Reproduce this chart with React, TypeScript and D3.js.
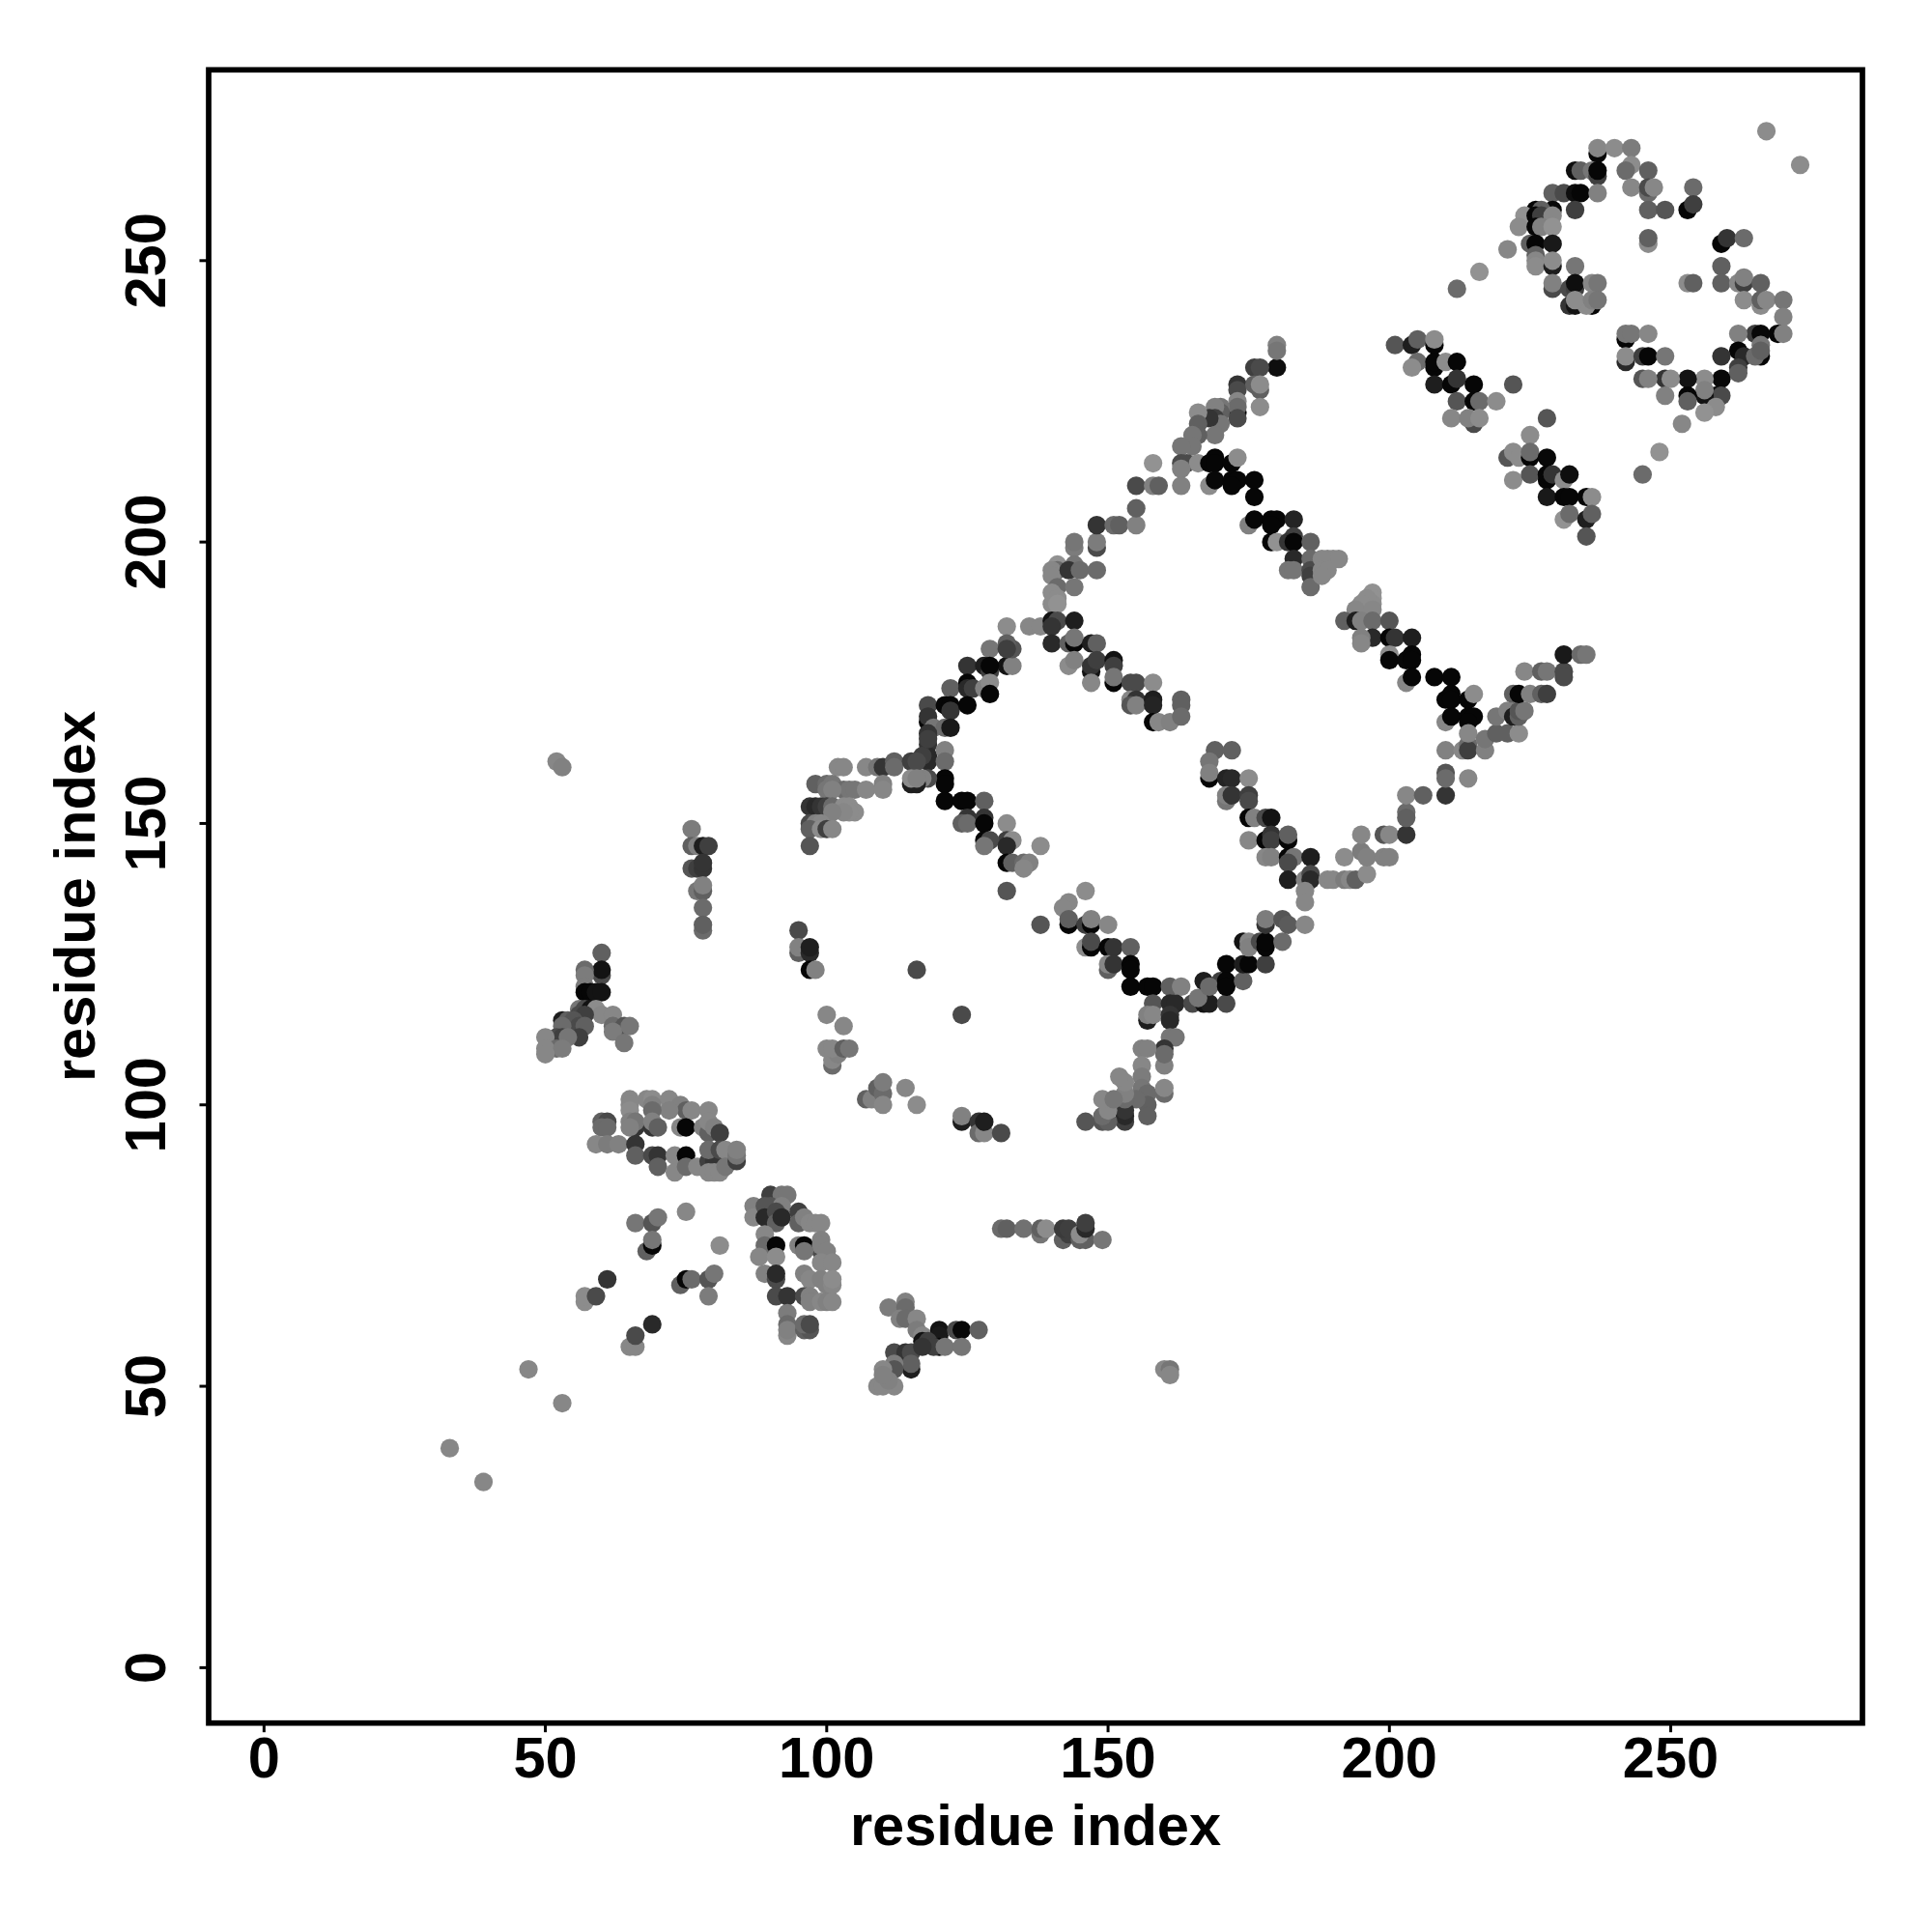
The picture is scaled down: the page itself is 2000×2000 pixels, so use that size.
import React from "react";
import * as d3 from "d3";

type P = [number, number, number];

const tickValues = [0, 50, 100, 150, 200, 250];
const xTitle = "residue index";
const yTitle = "residue index";

const diamondTop: P[] = [
[237,269,10],[237,270,125],[240,270,130],[243,270,115],[233,266,15],[234,266,90],[236,266,110],[237,265,60],[237,266,8],
[243,267,130],[242,266,100],[229,262,90],[231,262,70],[233,262,15],[234,262,8],[237,262,120],[233,259,60],[229,259,10],[226,259,8],[227,259,90],
[224,258,135],[226,258,8],[227,258,60],[229,258,125],[223,256,130],[226,256,8],[227,256,120],[229,256,135],[225,253,90],[226,253,8],[229,253,25],
[226,251,90],[226,250,125],[226,249,130],[229,249,30],[229,250,130],[233,249,110],[229,245,70],[229,246,120],[232,245,70],[233,245,60],[233,246,15],
[236,246,125],[237,246,110],[232,242,50],[233,242,20],[236,242,8],[235,242,130],[233,243,130],[236,243,120],[237,243,110],
[246,266,90],[243,263,125],[246,262,100],[246,263,70],[247,263,125],[246,259,90],[249,259,80],[254,263,100],[253,259,8],[254,260,60],
[246,253,130],[246,254,90],[259,253,8],[260,254,50],[263,254,100],[259,249,90],[259,246,90],[253,246,130],[254,246,90],[262,246,125],[263,246,60],[263,247,120],[266,246,90],
[266,242,130],[263,243,130],[266,243,90],[267,243,125],[270,243,110],[270,240,120],[269,237,8],[270,237,120],[265,237,60],[266,237,10],[262,237,120],[266,235,110],
[267,273,130],[273,267,130],[212,245,100],[216,248,135],[221,252,125]
];

const diamondBottom: P[] = [
[262,234,8],[263,233,40],[259,233,50],[266,233,8],[265,233,100],[266,234,90],[262,231,60],[262,230,90],[259,229,10],[256,229,130],[253,229,20],[249,229,50],[250,229,130],
[245,229,80],[246,229,120],[258,226,8],[259,226,70],[256,226,20],[256,227,120],[253,226,8],[249,226,120],[253,225,90],[258,224,130],[256,223,135],[252,221,125],[248,216,135],[245,212,100],
[242,236,8],[242,237,110],[243,237,110],[246,237,125],[242,232,40],[242,233,130],[245,233,60],[246,233,8],[249,233,110]
];

const stemA: P[] = [
[201,235,80],[204,235,30],[205,236,90],[208,235,8],[208,236,130],[205,232,100],[204,231,130],[208,231,8],[208,232,8],[210,232,130],[212,232,8],
[208,228,30],[211,228,8],[212,229,50],[215,228,8],[212,225,80],[215,225,8],[216,225,100],[219,225,130],[215,221,70],[211,222,125],[214,222,120],[216,222,130],
[222,228,80],[228,222,80],[225,219,130],[221,215,80],[222,216,130],[223,215,130],[225,215,8],[225,216,100],[228,215,10],[222,211,130],[225,212,80],[228,211,8],[228,212,8],[229,212,50],
[231,211,130],[232,212,15],[228,208,25],[231,208,8],[232,208,8],[235,208,8],[236,208,130],[231,204,135],[232,205,100],[235,204,30],[236,205,90],[235,201,80]
];

const ridgeUpper: P[] = [
[180,231,15],[180,235,120],[180,234,110],[176,231,60],[177,231,70],[173,228,50],[173,227,70],[176,228,90],[177,227,90],[177,228,130],[177,224,130],
[173,223,8],[173,225,125],[173,224,100],[173,222,70],[170,224,110],[170,223,90],[169,224,120],[169,222,60],[170,221,110],[168,222,50],[169,219,110],
[166,223,130],[166,221,90],[166,219,90],[165,219,110],[165,217,110],[163,217,110],[163,214,70],[164,214,70],[166,214,130],[163,213,120],
[169,215,8],[168,214,8],[169,214,8],[172,214,8],[173,215,130],[163,210,120],[158,214,135],[155,210,70],[158,210,120],[159,210,90],
[168,210,130],[169,211,10],[172,211,8],[173,211,8],[172,210,8],[176,211,8],[176,208,8],[175,203,120],[176,204,8],[179,204,8],[180,204,8],[179,203,8],[183,204,35],
[179,200,8],[180,200,135],[183,201,60],[182,200,50],[183,200,8],[186,200,90],[183,197,40],[182,195,110],[183,195,110],[186,197,100],[186,195,70],[186,194,60],[186,192,100],
[189,197,125],[190,197,125],[191,197,125],[188,197,125],[188,195,125],[189,195,125],[188,194,125],
[197,191,135],[197,190,135],[197,189,130],[196,190,130],[195,189,130],[194,188,125],[197,188,125],[192,186,90],[194,186,30],[195,186,120],[197,186,100],[200,186,80],
[197,183,40],[195,183,120],[195,182,125],[200,183,8],[201,183,50],[204,183,30],[200,180,130],[200,179,8],[203,179,10],[204,180,8],[204,179,8],[203,175,125],[204,176,8],
[208,176,8],[211,176,8],[210,172,8],[211,173,8],[211,172,8],[214,172,8],[215,173,130],[210,168,125],[211,169,8],[214,169,8],[215,169,8],[214,168,8]
];

const ridgeLeft: P[] = [
[141,196,135],[141,195,100],[140,195,125],[140,194,125],[141,192,100],[140,191,130],[141,190,130],[140,189,130],[141,189,135],
[144,199,115],[144,200,110],[148,199,70],[148,200,115],[144,196,110],[143,195,50],[145,195,100],[148,195,100],[144,192,110],
[148,203,50],[151,203,100],[152,203,90],[155,203,120],[155,206,90],[132,185,130],[136,185,125],[138,185,125],
[140,186,20],[141,186,70],[144,186,30],[140,185,50],[140,182,40],[143,182,90],[144,182,8],[144,183,110],[147,182,30],[148,182,90],
[143,178,130],[144,179,120],[147,177,20],[147,178,50],[148,179,60],[151,179,20],[151,178,60],[151,175,8],[151,176,110],[147,175,125],
[154,175,70],[155,175,70],[158,175,130],[154,172,125],[155,172,50],[154,171,80],[155,171,120],[158,172,30],[158,171,35],[158,168,8],[159,168,125],[161,168,120],
[163,172,90],[163,171,90],[163,169,100],[132,178,20],[133,178,120],[133,181,80],[132,182,90],[129,181,110],[132,181,60],
[125,178,50],[128,178,30],[129,177,60],[129,178,8],[122,174,90],[125,175,8],[125,174,40],[126,174,60],[128,174,120],[129,175,130],[129,173,8],
[118,171,70],[121,171,8],[122,171,8],[122,170,50],[125,171,8],[118,168,8],[118,169,50],[119,167,110],[121,167,100],[122,167,25],[118,166,50],
[118,164,50],[118,162,40],[118,161,40],[121,163,120],[121,161,100],[117,162,60],[121,158,8],[121,157,8],[118,158,70],[117,158,120],
[121,154,8],[124,154,8],[125,154,8],[128,154,90],[125,151,50],[128,151,50],[132,150,130]
];

const ridgeInner: P[] = [
[169,163,90],[172,163,90],[168,161,110],[168,158,8],[168,159,120],[171,158,35],[172,158,40],[175,158,130],[171,154,110],[171,155,120],[172,155,50],[175,155,60],[175,154,70],
[175,151,8],[176,151,120],[178,151,70],[179,151,20],[175,147,125],[178,147,8],[179,148,50],[179,147,60],[182,147,8],[182,148,90],
[178,144,125],[179,144,120],[182,144,8],[183,144,110],[186,144,30],[182,143,70],[182,140,30],[185,140,120],[186,141,70],[186,140,40],[185,138,125],[185,136,125],
[189,140,125],[190,140,125],[192,140,115],[193,140,125],[194,140,90],[196,141,130],[192,144,130],[195,145,115],[196,144,120],[195,148,125],
[199,148,80],[200,148,125],[203,148,50],[199,144,120],[200,144,120],[203,152,100],[203,151,90],[203,155,125],[206,155,90],
[210,155,50],[210,159,80],[210,158,100],[214,158,125],[210,163,120],[213,163,125],[214,164,100],[214,163,60],[214,166,125],[217,163,120],
[217,165,110],[219,166,90],[221,166,90],[223,166,130],[219,169,110],[221,170,120],[222,169,30],[223,169,90],[223,170,80],[224,170,110],
[222,173,90],[223,173,8],[225,173,120],[227,173,90],[228,173,60],[224,177,125],[227,177,90],[228,177,110],[231,177,70],[231,176,70],[231,180,25],[234,180,100],[235,180,110]
];

const helixLeftTop: P[] = [
[102,160,125],[103,160,125],[107,160,125],[109,160,110],[110,160,50],[112,161,90],[112,160,100],
[98,157,90],[100,157,100],[101,157,110],[103,156,100],[104,156,110],[105,156,110],[107,156,125],[110,157,120],[110,156,125],[100,156,110],[101,156,120],
[97,153,50],[98,153,40],[99,153,50],[100,153,60],[101,153,100],[103,153,130],[104,153,130],[105,152,130],[104,152,130],[103,152,125],[101,152,120],
[97,150,70],[98,150,120],[99,150,125],[97,149,90],[99,149,130],[100,149,60],[101,149,125],[97,146,80],
[115,161,60],[116,161,70],[118,165,60],[115,157,30],[116,157,30],[115,158,130],[116,158,120]
];

const ridgeMiddle: P[] = [
[124,150,90],[125,150,100],[128,150,8],[132,147,60],[133,147,130],[128,147,8],[129,147,70],[128,146,110],[132,146,40],[138,146,130],
[132,143,8],[133,143,90],[135,143,100],[136,143,120],[135,142,125],[132,138,80],
[146,138,130],[143,136,125],[142,135,125],[143,132,8],[143,133,90],[146,132,60],[147,132,8],[147,133,120],[150,132,125],[138,132,80],
[146,128,130],[147,128,8],[147,129,70],[150,128,8],[151,128,50],[154,128,90],[150,124,90],[150,125,125],[151,125,50],[154,125,8],[154,124,8],
[154,121,8],[157,121,8],[158,121,8],[161,121,90],[163,121,120],[158,118,80],[157,115,30],[157,116,120],[158,116,125],[161,118,40],[162,118,40],[165,118,70],
[161,116,50],[161,115,40],[167,118,20],[168,118,30],[171,118,70],[166,119,110],[167,122,30],[170,122,60],[168,121,100],[171,125,8],[171,122,8],[171,121,8],[174,122,90]
];

const ridgeTurn: P[] = [
[174,125,30],[175,125,8],[178,125,60],[174,129,20],[175,129,125],[175,128,120],[177,129,70],[178,128,8],[178,129,8],[181,129,100],
[178,132,50],[178,133,115],[181,133,80],[182,132,85],[185,132,125]
];

const strandLower: P[] = [
[161,112,110],[162,112,110],[160,110,50],[160,107,120],[160,109,100],[156,110,120],[157,110,120],[156,107,125],[156,105,115],[156,103,110],[157,102,100],[157,100,90],[157,98,90],[155,101,100],
[160,102,100],[160,103,125],[153,97,60],[153,98,40],[153,99,50],[153,101,100],[153,102,120],[153,104,125],[152,105,125],[149,97,80],[150,97,90],[149,98,100],[150,99,125],[149,101,125],[151,101,110],[146,97,80],
[95,131,70],[95,127,90],[95,128,120],[97,127,40],[97,128,30],[97,124,8],[98,124,120],[116,124,70],[124,116,70],[100,116,125],[103,114,125],
[101,107,100],[101,108,125],[102,109,120],[100,110,125],[101,110,125],[103,110,90],[104,110,110],
[107,101,90],[108,101,120],[109,103,90],[110,102,100],[110,100,125],[110,104,115],[114,103,125],[116,100,130],
[124,97,30],[124,98,120],[127,97,50],[127,95,100],[128,95,125],[128,97,30],[131,95,70]
];

const clusterUpper: P[] = [
[65,101,125],[68,101,125],[69,101,130],[72,101,125],[65,100,125],[69,100,120],[74,100,120],[75,99,90],[72,99,120],[76,99,125],[69,99,100],[65,99,130],[79,99,125],
[60,97,90],[61,97,70],[60,96,100],[61,96,100],[65,97,120],[66,96,50],[66,97,110],[65,96,120],[69,96,50],[69,97,120],[70,96,90],[74,96,125],[75,96,8],[78,96,120],
[79,95,90],[79,97,125],[80,96,120],[81,95,60],[59,93,125],[61,93,115],[63,93,120],[66,93,50],[66,91,90],[69,91,70],[70,91,50],[73,91,125],[75,91,8],
[70,89,90],[73,88,125],[75,89,100],[77,89,125],[79,90,60],[80,90,50],[79,92,100],[79,88,125],[80,88,125],[81,88,125],[81,92,70],[82,92,125],[82,89,110],[84,90,60],[84,91,110],[84,92,120]
];

const clusterMiddle: P[] = [
[90,84,60],[92,84,110],[93,84,110],[90,82,80],[92,82,120],[87,82,120],[87,80,125],[89,82,80],[89,80,40],[91,81,70],[91,79,90],[92,80,40],
[95,81,60],[95,79,90],[96,80,120],[97,79,125],[98,79,125],[99,79,125],[89,77,125],[89,75,100],[91,75,8],[95,75,120],[96,75,8],[99,76,120],[99,74,70],[99,75,120],[100,74,120],
[88,73,125],[91,73,130],[96,74,110],[99,72,125],[101,72,125],[89,70,120],[91,69,70],[91,70,40],[96,70,120],[97,69,125],[99,69,120],[100,68,120],[101,68,125],[101,69,130],
[91,66,70],[93,66,50],[96,66,70],[97,66,120],[97,65,120],[99,65,125],[100,65,120],[101,65,125],[93,63,115],[93,59,125],[93,61,100],[93,60,120],[96,60,90],[97,60,80],[96,61,100],[97,61,70]
];

const scatterLow: P[] = [
[66,79,110],[69,79,80],[70,80,110],[75,81,125],[81,75,130],[68,74,90],[69,75,8],[69,76,110],[61,69,50],[57,65,130],[57,66,130],[59,66,70],
[74,68,90],[75,69,8],[76,69,100],[79,69,80],[80,70,110],[79,66,115],[69,61,40],[65,57,125],[66,57,125],[66,59,70],
[47,53,125],[53,47,125],[33,39,125],[39,33,125],[52,161,125],[53,160,120],[160,53,125],[161,53,110],[161,52,125]
];

const clusterFoot: P[] = [
[111,64,115],[114,65,120],[114,64,100],[113,62,120],[114,62,100],[116,62,125],[116,60,115],[117,59,125],[120,60,20],[120,59,25],[123,60,70],[124,60,10],[127,60,90],
[117,58,20],[118,58,60],[120,57,8],[119,57,60],[121,57,110],[124,57,110],[112,56,70],[114,56,50],[115,56,70],[117,57,50],[115,53,30],[115,54,90],[112,54,115],[112,53,80],[110,53,125],
[109,50,125],[110,50,125],[112,50,125],[111,51,120],[110,52,120]
];

const bridge78: P[] = [
[131,78,100],[132,78,90],[135,78,105],[138,77,110],[138,78,90],[139,78,130],[142,76,90],[143,77,60],[142,78,55],[143,78,60],[145,76,90],[146,76,90],[145,77,130],[146,78,40],[146,79,60],[149,76,110]
];

const column78: P[] = [
[76,149,115],[76,146,90],[77,146,120],[78,146,30],[79,146,60],[76,142,80],[77,142,60],[78,142,50],[78,143,50],[77,138,110],[78,138,90],[78,139,120],[78,135,100],[78,131,100],[78,132,90]
];

const triangle60: P[] = [
[60,127,90],[60,123,70],[60,124,20],[57,124,100],[57,123,115],[57,121,115],[57,120,8],[58,120,8],[59,120,20],[60,120,20],[56,117,110],[57,117,70],[58,117,20],[59,117,130],[60,116,125],[62,116,125],
[56,116,70],[57,116,60],[53,115,30],[54,115,90],[55,115,80],[56,114,70],[57,114,90],[53,114,100],[62,114,100],[64,114,80],[65,114,110],[62,113,115],[64,111,110],
[52,112,70],[53,112,60],[50,112,125],[56,112,60],[54,112,110],[52,110,100],[50,110,125],[53,110,115],[50,109,125]
];

const allPoints: P[] = [
  ...diamondTop, ...diamondBottom, ...stemA, ...ridgeUpper, ...ridgeLeft, ...ridgeInner, ...helixLeftTop,
  ...ridgeMiddle, ...ridgeTurn, ...strandLower, ...clusterUpper, ...clusterMiddle, ...scatterLow, ...clusterFoot, ...bridge78, ...column78, ...triangle60,
];

const W = 2000;
const L = 216, R = 1928, T = 72.3, B = 1783.7;
const FONT = "'Liberation Sans', Arial, sans-serif";

export default function App() {
  const x = d3.scaleLinear().domain([-9.84, 284.07]).range([L, R]);
  const y = d3.scaleLinear().domain([-9.84, 283.9]).range([B, T]);
  const grey = d3.scaleLinear().domain([8, 135]).range([6, 146]).clamp(true);
  return (
    <svg width={W} height={W} viewBox={`0 0 ${W} ${W}`} style={{ position: "absolute", left: 0, top: 0, background: "#fff" }}>
      <g>
        {allPoints.map(([a, b, g], i) => {
          const v = grey(g);
          return <circle key={i} cx={x(a)} cy={y(b)} r={9.6} fill={d3.rgb(v, v, v).formatHex()} />;
        })}
      </g>
      <rect x={L} y={T} width={R - L} height={B - T} fill="none" stroke="#000" strokeWidth={5.7} />
      {tickValues.map((t) => (
        <g key={t} fontFamily={FONT} fontWeight="bold" fontSize={59.6} fill="#000">
          <line x1={x(t)} x2={x(t)} y1={B} y2={B + 9.5} stroke="#000" strokeWidth={3} />
          <text x={x(t)} y={1840} textAnchor="middle">{t}</text>
          <line x1={L} x2={L - 9.5} y1={y(t)} y2={y(t)} stroke="#000" strokeWidth={3} />
          <text transform={`translate(171,${y(t)}) rotate(-90)`} textAnchor="middle">{t}</text>
        </g>
      ))}
      <text x={(L + R) / 2} y={1910} textAnchor="middle" fontFamily={FONT} fontWeight="bold" fontSize={59.6}>{xTitle}</text>
      <text transform={`translate(98,${(T + B) / 2}) rotate(-90)`} textAnchor="middle" fontFamily={FONT} fontWeight="bold" fontSize={59.6}>{yTitle}</text>
    </svg>
  );
}
